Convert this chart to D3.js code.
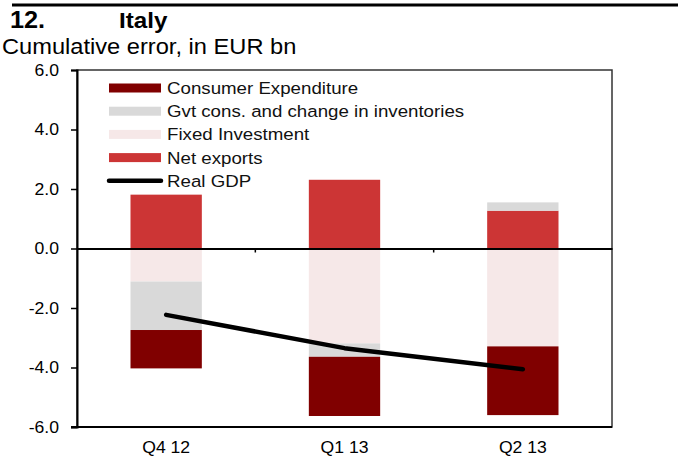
<!DOCTYPE html>
<html>
<head>
<meta charset="utf-8">
<script src="https://cdn.jsdelivr.net/npm/d3@7"></script>
<style>
  body { margin: 0; background: #fff; }
  svg { display: block; font-family: Arial, "Liberation Sans", sans-serif; }
</style>
</head>
<body>
<svg id="chart" width="678" height="456"></svg>
<script>
// Data
const quarters = ["Q4 12", "Q1 13", "Q2 13"];
const consumerExp = [-1.29, -1.99, -2.31];
const gvtInventories = [-1.63, -0.45, 0.28];
const fixedInvestment = [-1.11, -3.19, -3.29];
const netExports = [1.81, 2.31, 1.27];
const realGdp = [-2.23, -3.35, -4.06];
const yTicks = [-6, -4, -2, 0, 2, 4, 6];

// legend order (top to bottom)
const seriesNames = [
  "Consumer Expenditure",
  "Gvt cons. and change in inventories",
  "Fixed Investment",
  "Net exports",
];
const colors = {
  "Consumer Expenditure": "#800000",
  "Gvt cons. and change in inventories": "#d9d9d9",
  "Fixed Investment": "#f6e8e8",
  "Net exports": "#cc3535",
};
// stacking order (closest to zero first)
const stackKeys = ["Net exports", "Fixed Investment", "Gvt cons. and change in inventories", "Consumer Expenditure"];

const rows = quarters.map((q, i) => ({
  quarter: q,
  "Consumer Expenditure": consumerExp[i],
  "Gvt cons. and change in inventories": gvtInventories[i],
  "Fixed Investment": fixedInvestment[i],
  "Net exports": netExports[i],
}));

const margin = { top: 70, right: 66, bottom: 29, left: 77 };
const width = 678 - margin.left - margin.right;
const height = 456 - margin.top - margin.bottom;

// the original text is a bit wider than Arial, stretch it horizontally
const stretchX = 1.1;
function stretch(sel) {
  sel.each(function () {
    const t = d3.select(this);
    const tx = +t.attr("x") || 0;
    const ty = +t.attr("y") || 0;
    t.attr("x", 0).attr("y", 0)
      .attr("transform", `translate(${tx},${ty}) scale(${stretchX},1)`);
  });
}

const svg = d3.select("#chart");

// header
svg.append("line")
  .attr("x1", 12).attr("x2", 678)
  .attr("y1", 5).attr("y2", 5)
  .attr("stroke", "#000").attr("stroke-width", 3);

svg.append("text")
  .attr("x", 10).attr("y", 28)
  .style("font-weight", "bold")
  .style("font-size", "23px")
  .text("12.")
  .call(stretch);

svg.append("text")
  .attr("x", 119).attr("y", 28)
  .style("font-weight", "bold")
  .style("font-size", "22px")
  .text("Italy")
  .call(stretch);

svg.append("text")
  .attr("x", 2).attr("y", 54)
  .style("font-size", "21.5px")
  .text("Cumulative error, in EUR bn")
  .call(stretch);

const g = svg.append("g")
  .attr("transform", `translate(${margin.left},${margin.top})`);

const x = d3.scaleBand().domain(quarters).range([0, width]).paddingInner(0.6).paddingOuter(0.3);
const xLine = d3.scaleBand().domain(quarters).range([0, width]);
const y = d3.scaleLinear().domain([-6, 6]).range([height, 0]);

// frame (top and right, thin)
g.append("rect")
  .attr("x", 0).attr("y", 0)
  .attr("width", width).attr("height", height)
  .attr("fill", "none")
  .attr("stroke", "#333").attr("stroke-width", 1.5);

// stacked bars
const stack = d3.stack().keys(stackKeys).offset(d3.stackOffsetDiverging);
const layers = stack(rows);

g.selectAll("g.layer")
  .data(layers)
  .join("g")
  .attr("class", "layer")
  .attr("fill", (d) => colors[d.key])
  .selectAll("rect")
  .data((d) => d)
  .join("rect")
  .attr("x", (d) => x(d.data.quarter))
  .attr("width", x.bandwidth())
  .attr("y", (d) => y(Math.max(d[0], d[1])))
  .attr("height", (d) => Math.abs(y(d[0]) - y(d[1])));

// y axis
const fmt = d3.format(".1f");
const yAxis = g.append("g")
  .call(d3.axisLeft(y)
    .tickValues(yTicks)
    .tickFormat((d) => fmt(d).replace("\u2212", "-"))
    .tickSize(6)
    .tickPadding(12));
yAxis.select(".domain").attr("stroke", "#000").attr("stroke-width", 2);
yAxis.selectAll(".tick line").attr("stroke", "#000").attr("stroke-width", 1.5);
yAxis.selectAll(".tick text")
  .style("font-size", "16px")
  .style("font-family", "Arial, 'Liberation Sans', sans-serif")
  .attr("fill", "#000")
  .call(stretch);

// bottom frame line
g.append("line")
  .attr("x1", -6).attr("x2", width)
  .attr("y1", height).attr("y2", height)
  .attr("stroke", "#000").attr("stroke-width", 2);

// zero axis with boundary ticks
const zeroAxis = g.append("g")
  .attr("transform", `translate(0,${y(0)})`)
  .call(d3.axisBottom(xLine).tickValues([]).tickSizeOuter(0));
zeroAxis.select(".domain").attr("stroke", "#000").attr("stroke-width", 2);
zeroAxis.selectAll(".bt")
  .data(quarters.slice(1))
  .join("line")
  .attr("class", "bt")
  .attr("x1", (d) => xLine(d)).attr("x2", (d) => xLine(d))
  .attr("y1", 0).attr("y2", 4)
  .attr("stroke", "#000").attr("stroke-width", 1.5);

// category labels at the bottom
g.selectAll(".xlabel")
  .data(quarters)
  .join("text")
  .attr("class", "xlabel")
  .attr("x", (d) => xLine(d) + xLine.bandwidth() / 2)
  .attr("y", height + 26)
  .attr("text-anchor", "middle")
  .style("font-size", "16px")
  .text((d) => d)
  .call(stretch);

// real GDP line
const line = d3.line()
  .x((d, i) => xLine(quarters[i]) + xLine.bandwidth() / 2)
  .y((d) => y(d));

g.append("path")
  .datum(realGdp)
  .attr("d", line)
  .attr("fill", "none")
  .attr("stroke", "#000")
  .attr("stroke-width", 4.5)
  .attr("stroke-linecap", "round")
  .attr("stroke-linejoin", "round");

// legend
const legend = g.append("g").attr("transform", "translate(32, 18)");
const rowH = 23.2;

seriesNames.forEach((name, i) => {
  const item = legend.append("g").attr("transform", `translate(0, ${i * rowH})`);
  item.append("rect")
    .attr("x", 0).attr("y", -4.5)
    .attr("width", 52).attr("height", 9)
    .attr("fill", colors[name]);
  item.append("text")
    .attr("x", 58).attr("y", 6)
    .style("font-size", "17px")
    .attr("fill", "#111")
    .text(name)
    .call(stretch);
});

const gdpItem = legend.append("g").attr("transform", `translate(0, ${4 * rowH})`);
gdpItem.append("line")
  .attr("x1", 0).attr("x2", 52)
  .attr("y1", 0).attr("y2", 0)
  .attr("stroke", "#000").attr("stroke-width", 4.5)
  .attr("stroke-linecap", "round");
gdpItem.append("text")
  .attr("x", 58).attr("y", 6)
  .style("font-size", "17px")
  .attr("fill", "#111")
  .text("Real GDP")
  .call(stretch);
</script>
</body>
</html>
